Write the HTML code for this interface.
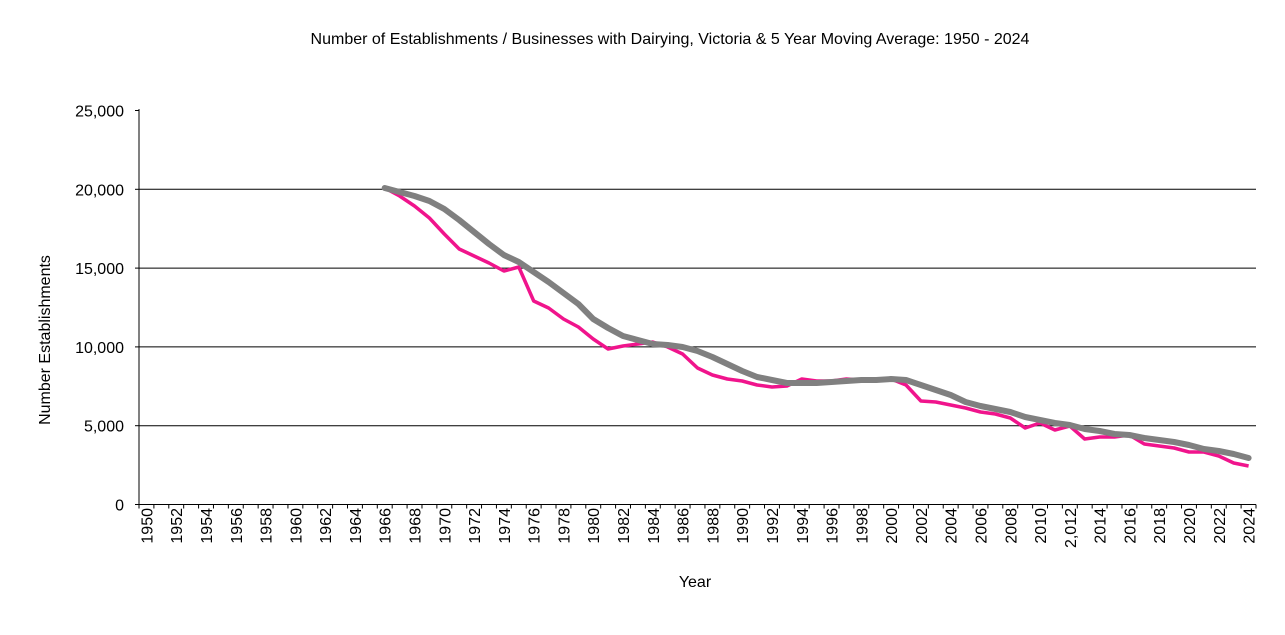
<!DOCTYPE html>
<html><head><meta charset="utf-8"><style>
html,body{margin:0;padding:0;background:#fff;}
svg{display:block;font-family:"Liberation Sans",Arial,sans-serif;}
</style></head><body>
<svg id="c" width="1285" height="635" viewBox="0 0 1285 635" xmlns="http://www.w3.org/2000/svg">
<text x="670" y="44" font-size="16" text-anchor="middle" fill="#000">Number of Establishments / Businesses with Dairying, Victoria &amp; 5 Year Moving Average: 1950 - 2024</text>
<text x="50" y="340" font-size="16" text-anchor="middle" transform="rotate(-90 50 340)">Number Establishments</text>
<text x="695" y="587" font-size="16" text-anchor="middle">Year</text>
<g id="g"></g>
</svg>
<script>
var g=document.getElementById('g'),h='';
var X0=139,X1=1256,W=(X1-X0)/75,Y0=504.5,K=78.8/5000;
var labs=['0','5,000','10,000','15,000','20,000','25,000'];
for(var i=0;i<=5;i++){var yy=Y0-i*78.8;
 if(i>0&&i<5)h+='<line x1="'+X0+'" x2="'+X1+'" y1="'+yy+'" y2="'+yy+'" stroke="#000" stroke-width="1"/>';
 h+='<line x1="'+(X0-4)+'" x2="'+X0+'" y1="'+yy+'" y2="'+yy+'" stroke="#000"/>';
 h+='<text x="124" y="'+(yy+6)+'" font-size="16" text-anchor="end">'+labs[i]+'</text>';}
h+='<line x1="'+X0+'" x2="'+X0+'" y1="109" y2="'+Y0+'" stroke="#000"/>';
h+='<line x1="'+X0+'" x2="'+X1+'" y1="'+Y0+'" y2="'+Y0+'" stroke="#000"/>';
for(var i=0;i<=75;i++){var xx=X0+i*W;h+='<line x1="'+xx+'" x2="'+xx+'" y1="'+Y0+'" y2="'+(Y0+4)+'" stroke="#000"/>';}
for(var yr=1950;yr<=2024;yr+=2){var xx=X0+W*(yr-1950+0.5)+6;var t=yr==2012?'2,012':yr;
 h+='<text x="'+xx+'" y="508" font-size="16" text-anchor="end" transform="rotate(-90 '+xx+' 508)">'+t+'</text>';}
var pink=[187,195,205,217,233,248,255,262,270,266,300,307,318,326,338,348,345,343,341,346,353,367,374,378,380,384,386,385,378,380,380,378,379,379,378,384,400,401,404,407,411,413,417,427,422,429,425,438,436,436,434,443,445,447,451,451,455,462,465];
var grey=[187,191,195,200,208,219,231,243,254,261,271,281,292,303,318,327,335,339,343,344,346,350,356,363,370,376,379,382,382,382,381,380,379,379,378,379,384,389,394,401,405,408,411,416,419,422,424,428,430,433,434,437,439,441,444,448,450,453,457];
function pts(a){return a.map(function(v,i){return (X0+W*(i+16.5)).toFixed(1)+','+(v+1);}).join(' ');}
h+='<polyline points="'+pts(pink)+'" fill="none" stroke="#f0148c" stroke-width="3.5" stroke-linejoin="round"/>';
h+='<polyline points="'+pts(grey)+'" fill="none" stroke="#808080" stroke-width="6" stroke-linejoin="round" stroke-linecap="round"/>';
g.innerHTML=h;
</script>
</body></html>
